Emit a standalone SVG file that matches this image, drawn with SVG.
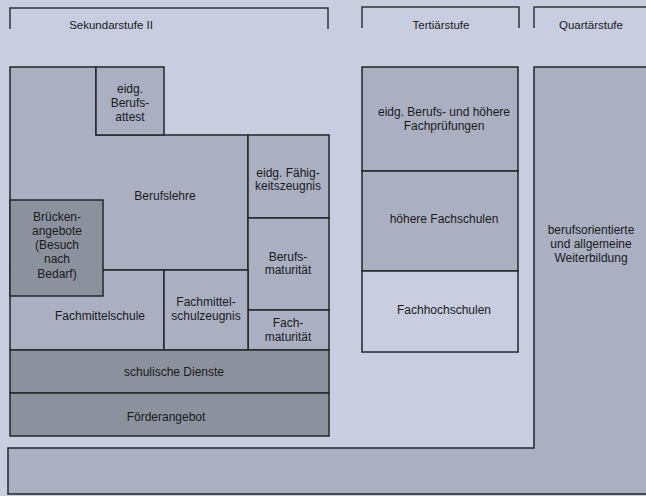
<svg xmlns="http://www.w3.org/2000/svg" width="646" height="496" viewBox="0 0 646 496">
<style>
.bg{fill:#c8cddf}
.m{fill:#aab0c2;stroke:#262626;stroke-width:1.5}
.d{fill:#8b919d;stroke:#262626;stroke-width:1.5}
.l{fill:#c8cddf;stroke:#262626;stroke-width:1.5}
.br{fill:none;stroke:#333;stroke-width:1.5}
text{font-family:"Liberation Sans",Arial,sans-serif;font-size:12px;fill:#1a1a1a;text-anchor:middle}
.h{font-size:11.5px}
</style>
<rect class="bg" x="0" y="0" width="646" height="496"/>
<g id="headers">
<path class="br" d="M10,29 V8 H328 V29"/>
<text class="h" x="111" y="29">Sekundarstufe II</text>
<path class="br" d="M362,28 V7 H519 V28"/>
<text class="h" x="441" y="29">Tertiärstufe</text>
<path class="br" d="M534,28 V7 H648"/>
<text class="h" x="591" y="29">Quartärstufe</text>
</g>
<g id="quartaer">
<polygon class="m" points="534,67 650,67 650,494 8,494 8,448 534,448"/>
<text x="591" y="234">berufsorientierte</text>
<text x="591" y="248">und allgemeine</text>
<text x="591" y="262">Weiterbildung</text>
</g>
<g id="berufslehre">
<polygon class="m" points="10,67 96,67 96,135 248,135 248,270 10,270"/>
<text x="165" y="200">Berufslehre</text>
</g>
<g id="fachmittelschule">
<rect class="m" x="10" y="270" width="154" height="80"/>
<text x="100" y="320">Fachmittelschule</text>
</g>
<g id="bruecken">
<rect class="d" x="10" y="200" width="93" height="96"/>
<text x="57" y="221">Brücken-</text>
<text x="57" y="235">angebote</text>
<text x="57" y="249">(Besuch</text>
<text x="57" y="263">nach</text>
<text x="57" y="278">Bedarf)</text>
</g>
<g id="attest">
<rect class="m" x="96" y="67" width="68" height="68"/>
<text x="130" y="93">eidg.</text>
<text x="130" y="107">Berufs-</text>
<text x="130" y="121">attest</text>
</g>
<g id="faehigkeitszeugnis">
<rect class="m" x="248" y="135" width="81" height="83"/>
<text x="288" y="177">eidg. Fähig-</text>
<text x="288" y="190">keitszeugnis</text>
</g>
<g id="berufsmaturitaet">
<rect class="m" x="248" y="218" width="81" height="92"/>
<text x="288" y="261">Berufs-</text>
<text x="288" y="274">maturität</text>
</g>
<g id="fachmaturitaet">
<rect class="m" x="248" y="310" width="81" height="40"/>
<text x="288" y="327">Fach-</text>
<text x="288" y="341">maturität</text>
</g>
<g id="fmszeugnis">
<rect class="m" x="164" y="270" width="84" height="80"/>
<text x="206" y="306">Fachmittel-</text>
<text x="206" y="320">schulzeugnis</text>
</g>
<g id="dienste">
<rect class="d" x="10" y="350" width="319" height="43"/>
<text x="174" y="376">schulische Dienste</text>
</g>
<g id="foerder">
<rect class="d" x="10" y="393" width="319" height="43"/>
<text x="166" y="421">Förderangebot</text>
</g>
<g id="berufspruefungen">
<rect class="m" x="362" y="67" width="156" height="104"/>
<text x="444" y="116">eidg. Berufs- und höhere</text>
<text x="444" y="130">Fachprüfungen</text>
</g>
<g id="hoehere-fachschulen">
<rect class="m" x="362" y="171" width="156" height="100"/>
<text x="444" y="223">höhere Fachschulen</text>
</g>
<g id="fachhochschulen">
<rect class="l" x="362" y="271" width="156" height="81"/>
<text x="444" y="314">Fachhochschulen</text>
</g>
<g id="connectors"></g>
</svg>
